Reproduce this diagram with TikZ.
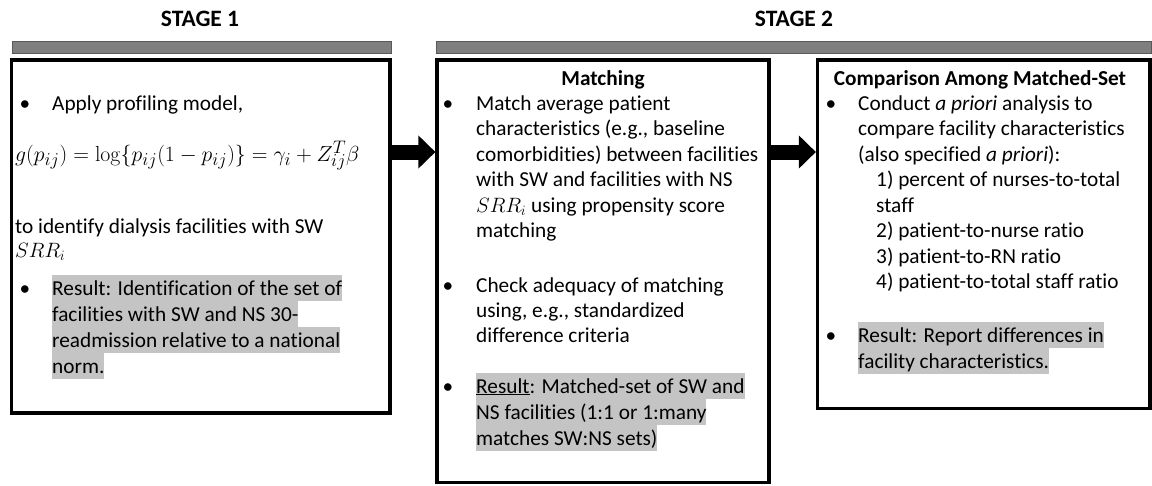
\documentclass[tikz,border=0pt]{standalone}
\usepackage[no-math]{fontspec}
\setmainfont{Carlito}[Ligatures={NoCommon}]
\usetikzlibrary{arrows.meta,calc}

\definecolor{barfill}{RGB}{127,127,127}
\definecolor{barline}{RGB}{89,89,89}
\definecolor{hlgray}{RGB}{196,196,196}

\newcommand{\bodyfont}{\fontsize{21.3}{25.6}\selectfont}
\newcommand{\headfont}{\fontsize{23.5}{28}\selectfont\bfseries}
\newcommand{\eqfont}{\fontsize{22.8}{28}\selectfont}

\tikzset{
  panel/.style={draw=black, line width=3.2pt, fill=white, inner sep=0pt},
  bar/.style={draw=barline, line width=1pt, fill=barfill, inner sep=0pt, minimum height=12pt},
  ln/.style={anchor=base west, inner sep=0pt, font=\bodyfont},
  hl/.style={ln, fill=hlgray, text height=20pt, text depth=6pt},
  dot/.style={anchor=base, inner sep=0pt, font=\bodyfont},
  title/.style={anchor=base, inner sep=0pt, font=\headfont},
  boxhead/.style={anchor=base, inner sep=0pt, font=\bodyfont\bfseries},
  blockarrow/.style={line width=15pt, -{Triangle[width=32pt,length=17pt]}}
}

\begin{document}
\begin{tikzpicture}[x=1pt,y=-1pt]
\useasboundingbox (0,0) rectangle (1152,485);

% stage headings and bars
\node[title] (s1) at (200,26) {STAGE 1};
\node[title] (s2) at (794,26) {STAGE 2};
\node[bar, minimum width=379pt] (bar1) at (201.5,47) {};
\node[bar, minimum width=715pt] (bar2) at (793.5,47) {};

% the three panels
\node[panel, minimum width=378.5pt, minimum height=353pt] (b1) at (200.75,236.5) {};
\node[panel, minimum width=332pt, minimum height=422.5pt] (b2) at (603,271.25) {};
\node[panel, minimum width=332.5pt, minimum height=348.5pt] (b3) at (983.75,234.25) {};

% connectors between panels
\coordinate (a1s) at (b1.east |- 0,152);
\coordinate (a1e) at (b2.west |- 0,152);
\coordinate (a2s) at (b2.east |- 0,152);
\coordinate (a2e) at (b3.west |- 0,152);
\draw[blockarrow] (a1s) -- (a1e);
\draw[blockarrow] (a2s) -- (a2e);

% panel 1: profiling model
\node[dot] (p1d1) at (25,110) {•};
\node[ln] (p1l1) at (52,110) {Apply profiling model,};
\node[ln, font=\eqfont] (p1eq) at (15,161) {\scalebox{1.05}{$g(p_{ij}) = \log\{p_{ij}(1-p_{ij})\} = \gamma_i + Z_{ij}^{T}\beta$}};
\node[ln] (p1l2) at (15,233) {to identify dialysis facilities with SW};
\node[ln] (p1l3) at (15,257) {$SRR_i$};
\node[dot] (p1d2) at (25,295) {•};
\node[hl] (p1r1) at (52,295) {Result: Identification of the set of\ };
\node[hl] (p1r2) at (52,321) {facilities with SW and NS 30-};
\node[hl] (p1r3) at (52,347) {readmission relative to a national\ };
\node[hl] (p1r4) at (52,373) {norm.};

% panel 2: matching
\node[boxhead] (p2h) at (603,85) {Matching};
\node[dot] (p2d1) at (448,110) {•};
\node[ln] (p2a1) at (476,110) {Match average patient};
\node[ln] (p2a2) at (476,135.5) {characteristics (e.g., baseline};
\node[ln] (p2a3) at (476,161) {comorbidities) between facilities};
\node[ln] (p2a4) at (476,186.5) {with SW and facilities with NS};
\node[ln] (p2a5) at (476,212) {$SRR_i$ using propensity score};
\node[ln] (p2a6) at (476,237.5) {matching};
\node[dot] (p2d2) at (448,292) {•};
\node[ln] (p2b1) at (476,292) {Check adequacy of matching};
\node[ln] (p2b2) at (476,317) {using, e.g., standardized};
\node[ln] (p2b3) at (476,342) {difference criteria};
\node[dot] (p2d3) at (448,393) {•};
\node[hl] (p2c1) at (476,393) {\underline{Result}: Matched-set of SW and\ };
\node[hl] (p2c2) at (476,419) {NS facilities (1:1 or 1:many\ };
\node[hl] (p2c3) at (476,445) {matches SW:NS sets)};

% panel 3: comparison
\node[boxhead] (p3h) at (980,85) {Comparison Among Matched-Set};
\node[dot] (p3d1) at (831,110) {•};
\node[ln] (p3a1) at (858,110) {Conduct \textit{a priori} analysis to};
\node[ln] (p3a2) at (858,135.5) {compare facility characteristics};
\node[ln] (p3a3) at (858,161) {(also specified \textit{a priori}):};
\node[ln] (p3a4) at (876,186.5) {1) percent of nurses-to-total};
\node[ln] (p3a5) at (876,212) {staff};
\node[ln] (p3a6) at (876,237.5) {2) patient-to-nurse ratio};
\node[ln] (p3a7) at (876,263) {3) patient-to-RN ratio};
\node[ln] (p3a8) at (876,288.5) {4) patient-to-total staff ratio};
\node[dot] (p3d2) at (831,342) {•};
\node[hl] (p3r1) at (858,342) {Result: Report differences in\ };
\node[hl] (p3r2) at (858,368) {facility characteristics.};
\end{tikzpicture}
\end{document}
